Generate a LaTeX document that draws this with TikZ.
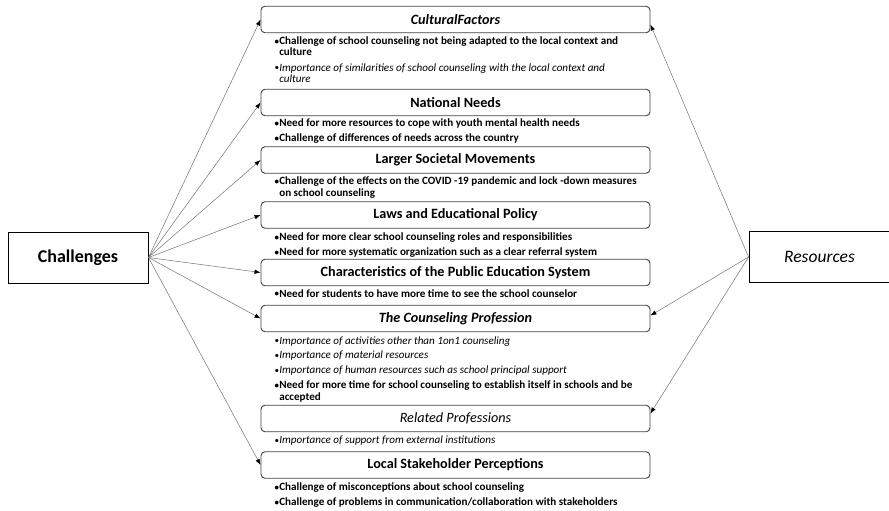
\documentclass[tikz,border=0pt]{standalone}
\usepackage{fontspec}
\setmainfont{Carlito}
\usetikzlibrary{arrows.meta,calc}
\newcommand\mybul{\makebox[4.6pt][l]{\raisebox{0.5pt}{\scalebox{0.8}{•}}}}
\begin{document}
\begin{tikzpicture}[x=1pt,y=-1pt,
  cat/.style={draw=black!75, line width=0.9pt, rounded corners=4pt, minimum width=389pt, minimum height=26.5pt, inner sep=0pt, font=\fontsize{14.2}{16}\selectfont\bfseries},
  side/.style={draw=black, line width=0.9pt, minimum width=140pt, minimum height=51pt, inner sep=0pt},
  item/.style={anchor=base west, inner sep=0pt, font=\fontsize{11.1}{12}\selectfont\bfseries},
  iitem/.style={anchor=base west, inner sep=0pt, font=\fontsize{11.1}{12}\selectfont\itshape},
  link/.style={draw=black!55, line width=0.5pt, -{Latex[length=6pt,width=4.5pt,color=black]}}
]
\useasboundingbox (0,0) rectangle (889,511);
% side boxes
\node[side, font=\fontsize{18}{20}\selectfont\bfseries] (ch) at (78,257.5) {Challenges};
\node[side, minimum width=141pt, font=\fontsize{17.5}{20}\selectfont\itshape] (res) at (819.5,257) {Resources};
% category boxes
\node[cat, font=\fontsize{14.2}{16}\selectfont\bfseries\itshape] (cf) at (455.5,19.5) {CulturalFactors};
\node[cat] (nn) at (455.5,102.5) {National Needs};
\node[cat] (lsm) at (455.5,160) {Larger Societal Movements};
\node[cat] (law) at (455.5,215) {Laws and Educational Policy};
\node[cat] (pes) at (455.5,272.5) {Characteristics of the Public Education System};
\node[cat, font=\fontsize{14.2}{16}\selectfont\bfseries\itshape] (tcp) at (455.5,318.5) {The Counseling Profession};
\node[cat, font=\fontsize{14.2}{16}\selectfont\itshape] (rp) at (455.5,418.5) {Related Professions};
\node[cat] (lsp) at (455.5,465) {Local Stakeholder Perceptions};
% items
\node[item] (cf1) at (274.5,45) {\mybul Challenge of school counseling not being adapted to the local context and};
\node[item] (cf1b) at (279.1,55.5) {culture};
\node[iitem] (cf2) at (274.5,71.5) {\mybul Importance of similarities of school counseling with the local context and};
\node[iitem] (cf2b) at (279.1,82.5) {culture};
\node[item] (nn1) at (274.5,126.5) {\mybul Need for more resources to cope with youth mental health needs};
\node[item] (nn2) at (274.5,141.5) {\mybul Challenge of differences of needs across the country};
\node[item] (lsm1) at (274.5,184.5) {\mybul Challenge of the effects on the COVID -19 pandemic and lock -down measures};
\node[item] (lsm1b) at (279.1,196) {on school counseling};
\node[item] (law1) at (274.5,240.5) {\mybul Need for more clear school counseling roles and responsibilities};
\node[item] (law2) at (274.5,255.5) {\mybul Need for more systematic organization such as a clear referral system};
\node[item] (pes1) at (274.5,297) {\mybul Need for students to have more time to see the school counselor};
\node[iitem] (tcp1) at (274.5,344) {\mybul Importance of activities other than 1on1 counseling};
\node[iitem] (tcp2) at (274.5,358.5) {\mybul Importance of material resources};
\node[iitem] (tcp3) at (274.5,373.5) {\mybul Importance of human resources such as school principal support};
\node[item] (tcp4) at (274.5,388.5) {\mybul Need for more time for school counseling to establish itself in schools and be};
\node[item] (tcp4b) at (279.1,400) {accepted};
\node[iitem] (rp1) at (274.5,443.5) {\mybul Importance of support from external institutions};
\node[item] (lsp1) at (274.5,490.5) {\mybul Challenge of misconceptions about school counseling};
\node[item] (lsp2) at (274.5,505.5) {\mybul Challenge of problems in communication/collaboration with stakeholders};
% connectors from Challenges
\foreach \t in {cf,nn,lsm,law,pes,tcp,lsp}
  \draw[link] (ch.east) -- (\t.west);
% connectors from Resources
\draw[link] (res.west) -- ($(cf.east)+(0,5)$);
\draw[link] (res.west) -- ($(tcp.east)+(0,-3)$);
\draw[link] (res.west) -- ($(rp.east)+(0,-5)$);
\end{tikzpicture}
\end{document}
